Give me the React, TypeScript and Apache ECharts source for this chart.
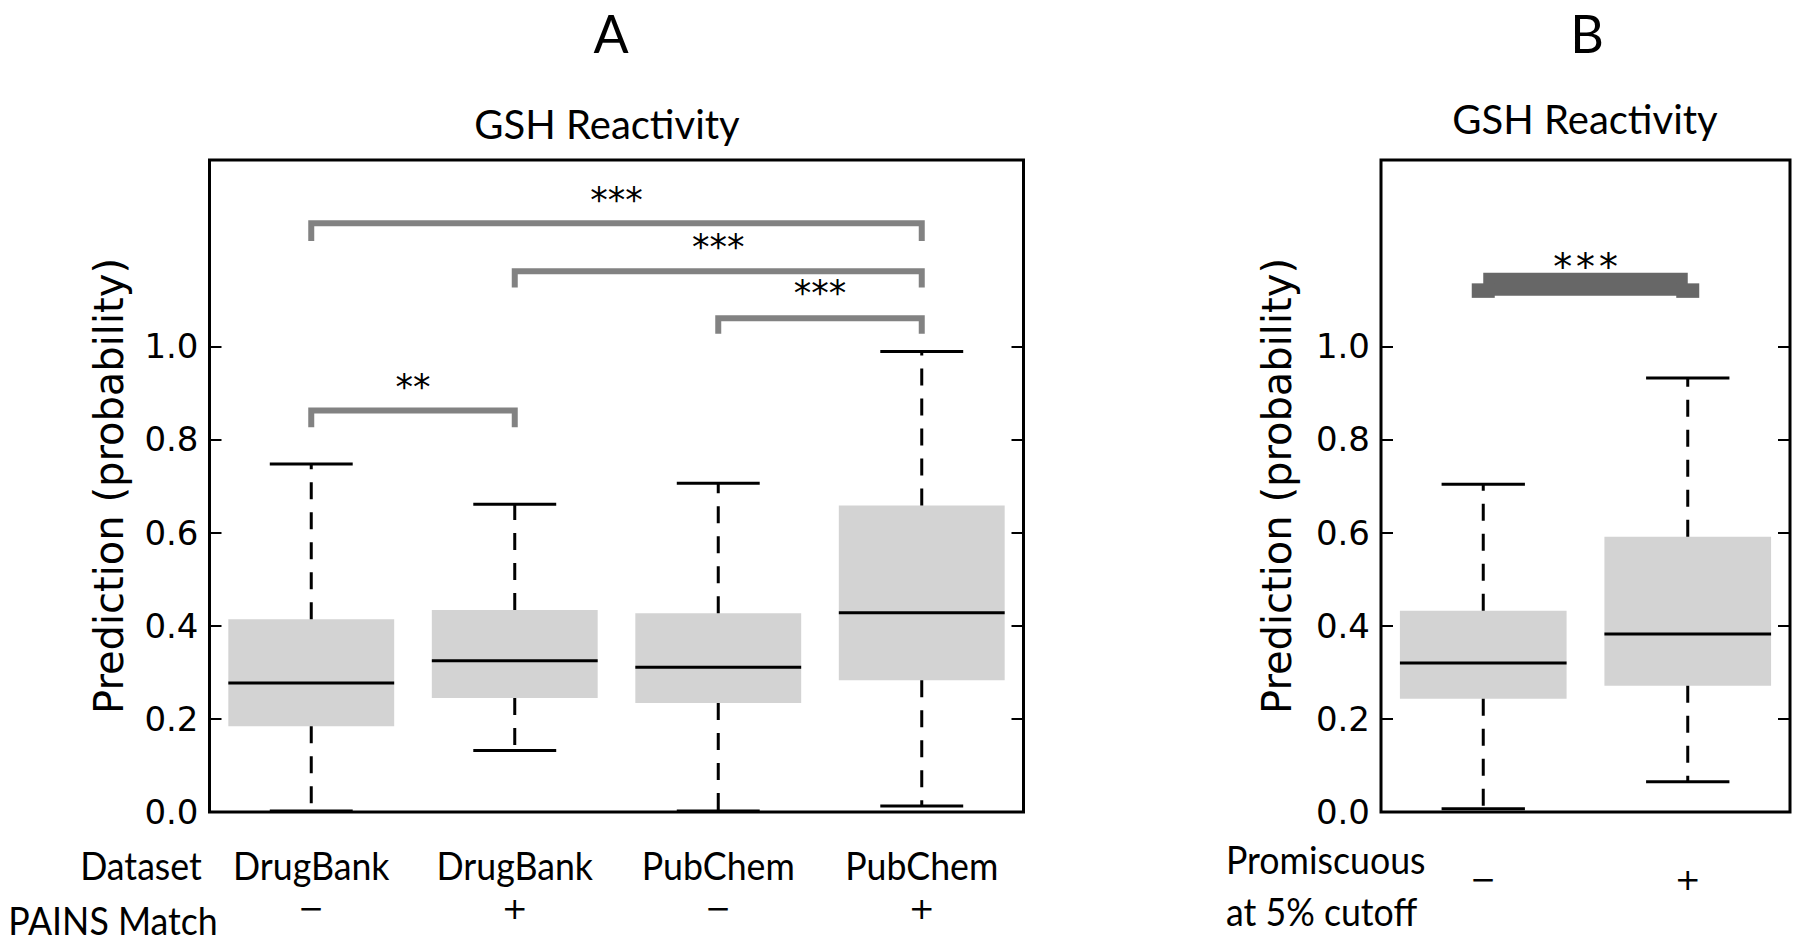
import React, { useEffect, useRef } from "react";
import * as echarts from "echarts";

// ---------- Panel A data ----------
const categoriesA = ["DrugBank −", "DrugBank +", "PubChem −", "PubChem +"];
const datasetLabelsA = ["DrugBank", "DrugBank", "PubChem", "PubChem"];
const painsLabelsA = ["\u2212", "+", "\u2212", "+"];
const whiskerLowA = [0.002, 0.132, 0.002, 0.013];
const q1A = [0.184, 0.245, 0.234, 0.283];
const medianA = [0.277, 0.325, 0.311, 0.428];
const q3A = [0.414, 0.434, 0.427, 0.658];
const whiskerHighA = [0.747, 0.661, 0.706, 0.989];

// significance brackets, panel A
const bracketFromA = [0, 1, 2, 0];
const bracketToA = [3, 3, 3, 1];
const bracketBarA = [1.264, 1.161, 1.06, 0.862];
const bracketEndA = [1.226, 1.126, 1.027, 0.826];
const bracketStarYA = [1.331, 1.231, 1.131, 0.93];
const bracketStarsA = ["***", "***", "***", "**"];

// ---------- Panel B data ----------
const categoriesB = ["\u2212", "+"];
const whiskerLowB = [0.007, 0.065];
const q1B = [0.243, 0.271];
const medianB = [0.32, 0.382];
const q3B = [0.432, 0.591];
const whiskerHighB = [0.704, 0.932];

const bracketFromB = [0];
const bracketToB = [1];
const bracketBarB = [1.133];
const bracketEndB = [1.104];
const bracketStarYB = [1.184];
const bracketStarsB = ["***"];

const yTickValues = [0, 0.2, 0.4, 0.6, 0.8, 1.0];

const LABEL_FONT = "Lato, 'Open Sans', sans-serif";
const AXIS_FONT = "'DejaVu Sans', sans-serif";

function boxRenderItem(params: any, api: any) {
  const x = api.value(0);
  const low = api.coord([x, api.value(1)]);
  const q1 = api.coord([x, api.value(2)]);
  const med = api.coord([x, api.value(3)]);
  const q3 = api.coord([x, api.value(4)]);
  const high = api.coord([x, api.value(5)]);
  const band = api.size([1, 0])[0];
  const bw = band * 0.815;
  const cw = bw * 0.5;
  const cx = q1[0];
  const solid = { stroke: "#000", lineWidth: 3 };
  const dashed = { stroke: "#000", lineWidth: 3, lineDash: [17, 13] };
  return {
    type: "group",
    children: [
      {
        type: "rect",
        shape: { x: cx - bw / 2, y: q3[1], width: bw, height: q1[1] - q3[1] },
        style: { fill: "#d3d3d3", stroke: null },
      },
      {
        type: "line",
        shape: { x1: cx - bw / 2, y1: med[1], x2: cx + bw / 2, y2: med[1] },
        style: solid,
      },
      { type: "line", shape: { x1: cx, y1: q3[1], x2: cx, y2: high[1] }, style: dashed },
      { type: "line", shape: { x1: cx, y1: q1[1], x2: cx, y2: low[1] }, style: dashed },
      {
        type: "line",
        shape: { x1: cx - cw / 2, y1: high[1], x2: cx + cw / 2, y2: high[1] },
        style: solid,
      },
      {
        type: "line",
        shape: { x1: cx - cw / 2, y1: low[1], x2: cx + cw / 2, y2: low[1] },
        style: solid,
      },
    ],
  };
}

function makeBracketRender(stars: string[], thick: boolean) {
  return (params: any, api: any) => {
    const a = api.value(0);
    const b = api.value(1);
    const pA = api.coord([a, api.value(2)]);
    const pB = api.coord([b, api.value(2)]);
    const eA = api.coord([a, api.value(3)]);
    const sP = api.coord([a, api.value(4)]);
    const midX = (pA[0] + pB[0]) / 2;
    const children: any[] = [];
    if (thick) {
      const col = "#676767";
      children.push({
        type: "line",
        shape: { x1: pA[0], y1: pA[1], x2: pB[0], y2: pB[1] },
        style: { stroke: col, lineWidth: 23, lineCap: "butt" },
      });
      children.push({
        type: "line",
        shape: { x1: pA[0], y1: pA[1] - 1, x2: pA[0], y2: eA[1] },
        style: { stroke: col, lineWidth: 23, lineCap: "butt" },
      });
      children.push({
        type: "line",
        shape: { x1: pB[0], y1: pB[1] - 1, x2: pB[0], y2: eA[1] },
        style: { stroke: col, lineWidth: 23, lineCap: "butt" },
      });
      children.push({
        type: "text",
        x: midX,
        y: sP[1] + 6,
        style: {
          text: stars[params.dataIndex],
          fill: "#000",
          fontFamily: "'DejaVu Sans Mono', monospace",
          fontSize: 38,
          align: "center",
          verticalAlign: "middle",
        },
      });
    } else {
      children.push({
        type: "polyline",
        shape: { points: [[pA[0], eA[1]], [pA[0], pA[1]], [pB[0], pB[1]], [pB[0], eA[1]]] },
        style: { stroke: "#828282", lineWidth: 6, fill: null, lineJoin: "miter", lineCap: "butt" },
      });
      children.push({
        type: "text",
        x: midX,
        y: sP[1] + 8,
        style: {
          text: stars[params.dataIndex],
          fill: "#000",
          fontFamily: AXIS_FONT,
          fontSize: 35,
          align: "center",
          verticalAlign: "middle",
        },
      });
    }
    return { type: "group", children };
  };
}

function yAxisDef(gridIndex: number, position: string, showLabel: boolean, nameGap: number) {
  return {
    type: "value",
    gridIndex,
    position,
    min: 0,
    max: 1.4,
    interval: 0.2,
    splitLine: { show: false },
    axisLine: { show: false },
    axisTick: {
      show: true,
      inside: true,
      length: 12,
      lineStyle: { color: "#000", width: 2 },
      customValues: yTickValues,
    },
    axisLabel: {
      show: showLabel,
      customValues: yTickValues,
      formatter: (v: number) => (v <= 1.0001 ? v.toFixed(1) : ""),
      color: "#000",
      fontFamily: AXIS_FONT,
      fontSize: 34,
      margin: 11,
    },
    name: showLabel ? "Prediction (probability)" : "",
    nameLocation: "middle",
    nameRotate: 90,
    nameGap,
    nameTextStyle: { color: "#000", fontFamily: AXIS_FONT, fontSize: 40 },
  };
}

function xAxisDef(gridIndex: number, data: string[]) {
  return {
    type: "category",
    gridIndex,
    data,
    boundaryGap: true,
    axisLine: { show: false },
    axisTick: { show: false },
    axisLabel: { show: false },
    splitLine: { show: false },
  };
}

export default function App() {
  const ref = useRef<HTMLDivElement>(null);

  useEffect(() => {
    if (!ref.current) return;
    const chart = echarts.init(ref.current, null, { renderer: "svg", width: 1800, height: 951 });

    const boxDataA = categoriesA.map((_, i) => [i, whiskerLowA[i], q1A[i], medianA[i], q3A[i], whiskerHighA[i]]);
    const boxDataB = categoriesB.map((_, i) => [i, whiskerLowB[i], q1B[i], medianB[i], q3B[i], whiskerHighB[i]]);
    const brDataA = bracketFromA.map((f, i) => [f, bracketToA[i], bracketBarA[i], bracketEndA[i], bracketStarYA[i]]);
    const brDataB = bracketFromB.map((f, i) => [f, bracketToB[i], bracketBarB[i], bracketEndB[i], bracketStarYB[i]]);

    const option: any = {
      animation: false,
      backgroundColor: "#fff",
      grid: [
        { left: 209.5, top: 160, width: 814, height: 652, show: true, borderColor: "#000", borderWidth: 3, backgroundColor: "transparent" },
        { left: 1381, top: 160, width: 409, height: 652, show: true, borderColor: "#000", borderWidth: 3, backgroundColor: "transparent" },
      ],
      xAxis: [xAxisDef(0, categoriesA), xAxisDef(1, categoriesB)],
      yAxis: [
        yAxisDef(0, "left", true, 81),
        yAxisDef(0, "right", false, 0),
        yAxisDef(1, "left", true, 84),
        yAxisDef(1, "right", false, 0),
      ],
      series: [
        {
          type: "custom",
          xAxisIndex: 0,
          yAxisIndex: 0,
          data: boxDataA,
          encode: { x: 0, y: [1, 2, 3, 4, 5] },
          renderItem: boxRenderItem,
        },
        {
          type: "custom",
          xAxisIndex: 1,
          yAxisIndex: 2,
          data: boxDataB,
          encode: { x: 0, y: [1, 2, 3, 4, 5] },
          renderItem: boxRenderItem,
        },
        {
          type: "custom",
          xAxisIndex: 0,
          yAxisIndex: 0,
          data: brDataA,
          encode: { x: [0, 1], y: [2, 3, 4] },
          renderItem: makeBracketRender(bracketStarsA, false),
        },
        {
          type: "custom",
          xAxisIndex: 1,
          yAxisIndex: 2,
          data: brDataB,
          encode: { x: [0, 1], y: [2, 3, 4] },
          renderItem: makeBracketRender(bracketStarsB, true),
        },
      ],
    };
    chart.setOption(option);

    const pxA = (i: number) => chart.convertToPixel({ xAxisIndex: 0 } as any, i) as number;
    const pxB = (i: number) => chart.convertToPixel({ xAxisIndex: 1 } as any, i) as number;

    const txt = (text: string, x: number, y: number, size: number, align = "center", sx = 1, family = LABEL_FONT) => ({
      type: "text",
      x,
      y,
      scaleX: sx,
      style: { text, fill: "#000", fontFamily: family, fontSize: size, align, verticalAlign: "middle" },
    });

    const SX = 0.94;
    const graphics: any[] = [
      txt("A", 611, 33, 52),
      txt("B", 1587, 33, 52),
      txt("GSH Reactivity", 607, 124, 40),
      txt("GSH Reactivity", 1585, 119, 40),
      txt("Dataset", 141, 866, 38, "center", SX),
      txt("PAINS Match", 113, 921, 38, "center", SX),
      txt("Promiscuous", 1226, 860, 38, "left", SX),
      txt("at 5% cutoff", 1226, 912, 38, "left", SX),
    ];
    datasetLabelsA.forEach((l, i) => graphics.push(txt(l, pxA(i), 866, 38, "center", SX)));
    painsLabelsA.forEach((l, i) => graphics.push(txt(l, pxA(i), 908, 31, "center", 1, AXIS_FONT)));
    categoriesB.forEach((l, i) => graphics.push(txt(l, pxB(i), 879, 31, "center", 1, AXIS_FONT)));

    chart.setOption({ graphic: graphics });

    return () => {
      chart.dispose();
    };
  }, []);

  return (
    <div
      ref={ref}
      style={{ position: "fixed", left: 0, top: 0, width: 1800, height: 951, background: "#fff" }}
    />
  );
}
